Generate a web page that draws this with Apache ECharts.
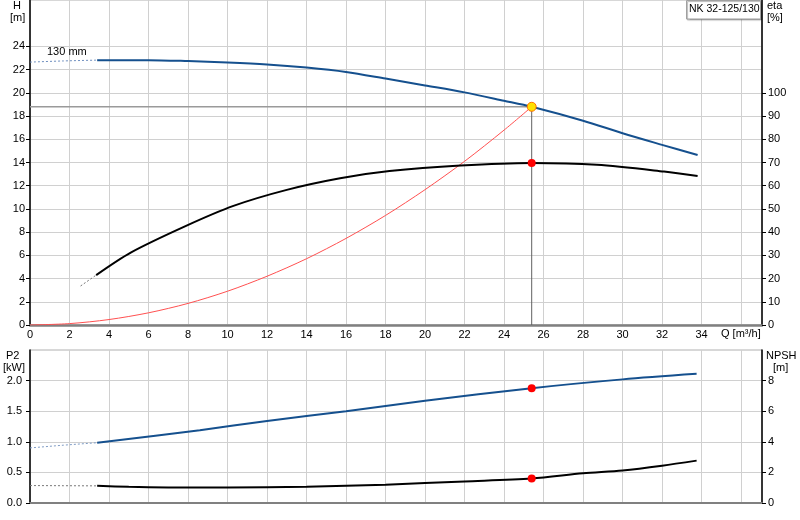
<!DOCTYPE html>
<html>
<head>
<meta charset="utf-8">
<script src="https://cdn.jsdelivr.net/npm/echarts@6/dist/echarts.min.js"></script>
<style>
html,body{margin:0;padding:0;background:#fff;}
#chart{width:800px;height:520px;}
</style>
</head>
<body>
<div id="chart"></div>
<script>
// ---- data ----
var headDashQ = [0, 1.7, 3.4];
var headDashH = [22.65, 22.75, 22.82];
var headQ = [3.4, 6, 8, 10, 12, 14, 16, 18, 20, 22, 24, 25.4, 28, 30, 32, 33.8];
var headH = [22.82, 22.82, 22.74, 22.62, 22.45, 22.18, 21.8, 21.23, 20.64, 20.04, 19.32, 18.8, 17.6, 16.52, 15.52, 14.64];

var etaDashQ = [2.56, 3.35];
var etaDash = [16.8, 21.5];
var etaQ = [3.35, 5.1, 7.9, 10.3, 13, 15.7, 18.2, 21.8, 25.4, 28.7, 32.1, 33.8];
var eta = [21.5, 31.2, 42.7, 51.3, 58.2, 63.2, 66.3, 68.7, 69.8, 69.0, 66.1, 64.2];

var sysQ = [0, 2, 4, 6, 8, 10, 12, 14, 16, 18, 20, 22, 24, 25.4];
var sysH = [0, 0.12, 0.47, 1.05, 1.86, 2.91, 4.2, 5.71, 7.46, 9.44, 11.66, 14.1, 16.79, 18.8];

var dutyQ = 25.4;
var dutyH = 18.8;
var dutyEta = 69.8;
var dutyP2 = 1.876;
var dutyNPSH = 1.6;

var p2DashQ = [0, 1.7, 3.4];
var p2Dash = [0.90, 0.945, 0.985];
var p2Q = [3.4, 8.6, 12, 16, 20, 25.4, 30, 33.75];
var p2 = [0.985, 1.19, 1.34, 1.50, 1.67, 1.876, 2.02, 2.11];

var npshDashQ = [0, 1.7, 3.4];
var npshDash = [1.14, 1.13, 1.12];
var npshQ = [3.4, 5, 7, 10, 14, 18, 22, 25.4, 28, 30, 32, 33.75];
var npsh = [1.12, 1.06, 1.02, 1.01, 1.06, 1.2, 1.41, 1.6, 1.94, 2.13, 2.44, 2.77];

var qTicks = [0, 2, 4, 6, 8, 10, 12, 14, 16, 18, 20, 22, 24, 26, 28, 30, 32, 34];
var hTicks = [0, 2, 4, 6, 8, 10, 12, 14, 16, 18, 20, 22, 24];
var etaTicks = [0, 10, 20, 30, 40, 50, 60, 70, 80, 90, 100];
var p2Ticks = [0, 0.5, 1.0, 1.5, 2.0];
var npshTicks = [0, 2, 4, 6, 8];

var pumpName = 'NK 32-125/130';
var curveLabel = '130 mm';

function zip(a, b) { return a.map(function (v, i) { return [v, b[i]]; }); }

var FONT = 'Liberation Sans';
var BLUE = '#15508e';
var GRID = '#d0d0d0';

var chart = echarts.init(document.getElementById('chart'), null, {renderer: 'canvas'});

function yAx(grid, pos, min, max, interval, ticks, margin, dec, split) {
  return {
    type: 'value', gridIndex: grid, position: pos, min: min, max: max, interval: interval,
    axisLine: {show: true, lineStyle: {color: '#000', width: 1.5}},
    axisTick: {show: true, inside: false, length: 4, customValues: ticks, lineStyle: {color: '#000'}},
    axisLabel: {show: true, customValues: ticks, margin: margin, color: '#000', fontFamily: FONT, fontSize: 11,
      formatter: function (v) { return dec ? v.toFixed(1) : String(v); }},
    splitLine: {show: split, lineStyle: {color: GRID, width: 1}}
  };
}

var option = {
  animation: false,
  backgroundColor: '#fff',
  grid: [
    {left: 30, top: 0, width: 732, height: 325, show: true, borderColor: '#b0b0b0', borderWidth: 1},
    {left: 30, top: 350, width: 732, height: 153, show: true, borderColor: '#b0b0b0', borderWidth: 1}
  ],
  xAxis: [
    {type: 'value', gridIndex: 0, min: 0, max: 37.06, interval: 2,
      axisLine: {show: true, onZero: false, lineStyle: {color: '#808080', width: 2.5}},
      axisTick: {show: false},
      axisLabel: {customValues: qTicks, margin: 4, color: '#000', fontFamily: FONT, fontSize: 11},
      splitLine: {show: true, lineStyle: {color: GRID, width: 1}}},
    {type: 'value', gridIndex: 1, min: 0, max: 37.06, interval: 2,
      axisLine: {show: true, onZero: false, lineStyle: {color: '#808080', width: 2}},
      axisTick: {show: false}, axisLabel: {show: false},
      splitLine: {show: true, lineStyle: {color: GRID, width: 1}}}
  ],
  yAxis: [
    yAx(0, 'left', 0, 28, 2, hTicks, 5, false, true),
    yAx(0, 'right', 0, 140, 10, etaTicks, 6, false, false),
    yAx(1, 'left', 0, 2.5, 0.5, p2Ticks, 8, true, true),
    yAx(1, 'right', 0, 10, 2, npshTicks, 6, false, false)
  ],
  series: [
    // duty lines
    {type: 'line', xAxisIndex: 0, yAxisIndex: 0, symbol: 'none', silent: true,
      data: [[0, dutyH], [dutyQ, dutyH]], lineStyle: {color: '#9a9a9a', width: 1.5}},
    {type: 'line', xAxisIndex: 0, yAxisIndex: 0, symbol: 'none', silent: true,
      data: [[dutyQ, dutyH], [dutyQ, 0]], lineStyle: {color: '#606060', width: 1}},
    // system curve
    {type: 'line', xAxisIndex: 0, yAxisIndex: 0, symbol: 'none', smooth: 0.3,
      data: zip(sysQ, sysH), lineStyle: {color: '#ff5050', width: 1}},
    // head
    {type: 'line', xAxisIndex: 0, yAxisIndex: 0, symbol: 'none', smooth: 0.3,
      data: zip(headDashQ, headDashH), lineStyle: {color: '#6f8fbf', width: 1, type: [2, 2]}},
    {type: 'line', xAxisIndex: 0, yAxisIndex: 0, symbol: 'none', smooth: 0.3,
      data: zip(headQ, headH), lineStyle: {color: BLUE, width: 2}},
    // efficiency
    {type: 'line', xAxisIndex: 0, yAxisIndex: 1, symbol: 'none',
      data: zip(etaDashQ, etaDash), lineStyle: {color: '#777', width: 1, type: [2, 2]}},
    {type: 'line', xAxisIndex: 0, yAxisIndex: 1, symbol: 'none', smooth: 0.3,
      data: zip(etaQ, eta), lineStyle: {color: '#000', width: 2}},
    // points
    {type: 'scatter', xAxisIndex: 0, yAxisIndex: 1, symbolSize: 8, z: 10,
      data: [[dutyQ, dutyEta]], itemStyle: {color: '#ff0000', opacity: 1}},
    {type: 'scatter', xAxisIndex: 0, yAxisIndex: 0, symbolSize: 9, z: 10,
      data: [[dutyQ, dutyH]], itemStyle: {color: '#ffe000', borderColor: '#ff7000', borderWidth: 1, opacity: 1}},
    // P2
    {type: 'line', xAxisIndex: 1, yAxisIndex: 2, symbol: 'none',
      data: zip(p2DashQ, p2Dash), lineStyle: {color: '#7f9cc5', width: 1, type: [2, 2]}},
    {type: 'line', xAxisIndex: 1, yAxisIndex: 2, symbol: 'none', smooth: 0.3,
      data: zip(p2Q, p2), lineStyle: {color: BLUE, width: 2}},
    // NPSH
    {type: 'line', xAxisIndex: 1, yAxisIndex: 3, symbol: 'none',
      data: zip(npshDashQ, npshDash), lineStyle: {color: '#777', width: 1, type: [2, 2]}},
    {type: 'line', xAxisIndex: 1, yAxisIndex: 3, symbol: 'none', smooth: 0.3,
      data: zip(npshQ, npsh), lineStyle: {color: '#000', width: 2}},
    {type: 'scatter', xAxisIndex: 1, yAxisIndex: 2, symbolSize: 8, z: 10,
      data: [[dutyQ, dutyP2]], itemStyle: {color: '#ff0000', opacity: 1}},
    {type: 'scatter', xAxisIndex: 1, yAxisIndex: 3, symbolSize: 8, z: 10,
      data: [[dutyQ, dutyNPSH]], itemStyle: {color: '#ff0000', opacity: 1}}
  ],
  graphic: [
    {type: 'text', z: 100, left: 13, top: 0, style: {text: 'H', font: '11px ' + FONT, fill: '#000'}},
    {type: 'text', z: 100, left: 10, top: 12, style: {text: '[m]', font: '11px ' + FONT, fill: '#000'}},
    {type: 'text', z: 100, left: 767, top: 0, style: {text: 'eta', font: '11px ' + FONT, fill: '#000'}},
    {type: 'text', z: 100, left: 767, top: 12, style: {text: '[%]', font: '11px ' + FONT, fill: '#000'}},
    {type: 'text', z: 100, left: 6, top: 350, style: {text: 'P2', font: '11px ' + FONT, fill: '#000'}},
    {type: 'text', z: 100, left: 3, top: 362, style: {text: '[kW]', font: '11px ' + FONT, fill: '#000'}},
    {type: 'text', z: 100, left: 766, top: 350, style: {text: 'NPSH', font: '11px ' + FONT, fill: '#000'}},
    {type: 'text', z: 100, left: 773, top: 362, style: {text: '[m]', font: '11px ' + FONT, fill: '#000'}},
    {type: 'text', z: 100, left: 721, top: 328, style: {text: 'Q [m³/h]', font: '11px ' + FONT, fill: '#000'}},
    {type: 'text', z: 100, left: 47, top: 46, style: {text: curveLabel, font: '11px ' + FONT, fill: '#000'}},
    {type: 'rect', z: 100, shape: {x: 686.5, y: 0.5, width: 74, height: 18.5},
      style: {fill: '#fff', stroke: '#a0a0a0', lineWidth: 1, shadowColor: 'rgba(0,0,0,0.3)', shadowOffsetX: 1, shadowOffsetY: 1, shadowBlur: 1}},
    {type: 'text', z: 101, left: 689, top: 3.5, style: {text: pumpName, font: '10.5px ' + FONT, fill: '#000'}}
  ]
};
chart.setOption(option);
</script>
</body>
</html>
